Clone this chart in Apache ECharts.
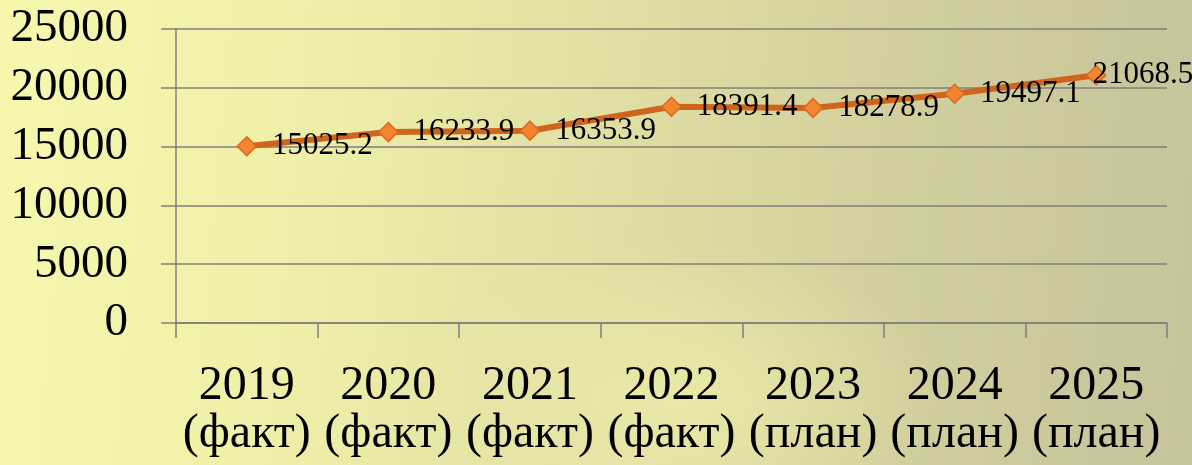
<!DOCTYPE html>
<html>
<head>
<meta charset="utf-8">
<script src="https://cdn.jsdelivr.net/npm/echarts@6/dist/echarts.min.js"></script>
<style>
html,body{margin:0;padding:0;}
#bg{position:absolute;left:0;top:0;width:1192px;height:465px;
background:
 radial-gradient(ellipse 260px 160px at 680px 400px, rgba(240,238,170,0.75) 0%, rgba(240,238,170,0) 100%),
 linear-gradient(95deg, #F8F7AE 0%, #F0EFA9 25%, #E2E0A3 48%, #D3D09E 72%, #C7C39B 100%);}
#chart{position:absolute;left:0;top:0;width:1192px;height:465px;}
</style>
</head>
<body>
<div id="bg"></div>
<div id="chart"></div>
<script>
const categories = ["2019\n(факт)","2020\n(факт)","2021\n(факт)","2022\n(факт)","2023\n(план)","2024\n(план)","2025\n(план)"];
const values = [15025.2, 16233.9, 16353.9, 18391.4, 18278.9, 19497.1, 21068.5];
const yTicks = [0, 5000, 10000, 15000, 20000, 25000];

const chart = echarts.init(document.getElementById('chart'), null, {renderer:'canvas'});
const font = '"Liberation Serif", "DejaVu Serif", serif';
const seriesData = values.map((v, i) => {
  if (i === values.length - 1) {
    return {value: v, label: {offset: [-29, 0]}};
  }
  return v;
});
chart.setOption({
  backgroundColor: 'transparent',
  animation: false,
  grid: {left: 176, right: 25, top: 29, bottom: 142},
  xAxis: {
    type: 'category',
    data: categories,
    boundaryGap: true,
    axisLine: {show: true, lineStyle: {color: '#7f7f7f', width: 1.5}},
    axisTick: {show: true, length: 15, lineStyle: {color: '#7f7f7f', width: 1.5}},
    axisLabel: {fontFamily: font, fontSize: 48, lineHeight: 48, color: '#000', margin: 39, interval: 0}
  },
  yAxis: {
    type: 'value',
    min: yTicks[0], max: yTicks[yTicks.length-1], interval: 5000,
    axisLine: {show: true, lineStyle: {color: '#7f7f7f', width: 1.5}},
    axisTick: {show: true, length: 15, lineStyle: {color: '#7f7f7f', width: 1.5}},
    splitLine: {show: true, lineStyle: {color: '#7f7f7f', width: 1.5}},
    axisLabel: {fontFamily: font, fontSize: 47, color: '#000', margin: 48, formatter: v => String(v)}
  },
  series: [{
    type: 'line',
    data: seriesData,
    symbol: 'diamond',
    symbolSize: 19,
    lineStyle: {color: '#CF651C', width: 6},
    itemStyle: {color: '#F5842F', borderColor: '#D86A24', borderWidth: 1.5},
    label: {show: true, position: 'right', distance: 15, fontFamily: font, fontSize: 31, color: '#000'}
  }]
});
</script>
</body>
</html>
